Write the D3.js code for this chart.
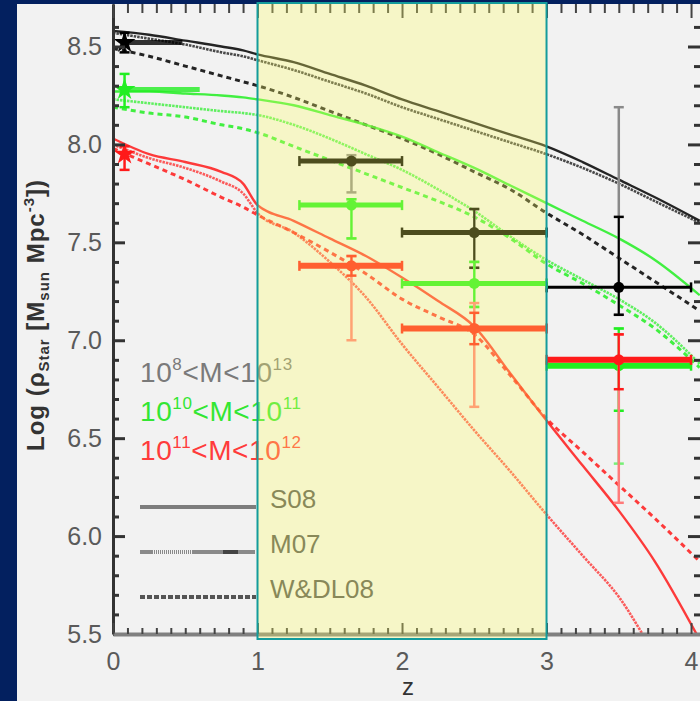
<!DOCTYPE html>
<html><head><meta charset="utf-8">
<script src="https://cdn.jsdelivr.net/npm/d3@7"></script>
<style>html,body{margin:0;padding:0;background:#f2f2f2;overflow:hidden}text{font-family:"Liberation Sans",Arial,sans-serif}</style>
</head><body>
<svg id="c" width="700" height="701"></svg>
<script>
// Redshift grid shared by all model curves
const zGrid = [0, 0.25, 0.5, 0.75, 0.9, 1, 1.25, 1.5, 1.75, 2, 2.25, 2.5, 2.75, 3, 3.25, 3.5, 3.75, 4.06];

// Model stellar mass densities, log rho_star, per mass bin and model
const blackS08 = [8.58, 8.56, 8.53, 8.50, 8.48, 8.46, 8.42, 8.36, 8.30, 8.23, 8.17, 8.11, 8.05, 7.99, 7.91, 7.82, 7.73, 7.61];
const blackM07 = [8.57, 8.54, 8.51, 8.47, 8.45, 8.43, 8.38, 8.32, 8.26, 8.19, 8.13, 8.07, 8.01, 7.95, 7.88, 7.80, 7.71, 7.60];
const blackWDL = [8.49, 8.45, 8.40, 8.35, 8.32, 8.30, 8.24, 8.17, 8.10, 8.03, 7.95, 7.86, 7.77, 7.65, 7.54, 7.42, 7.30, 7.15];
const greenS08 = [8.27, 8.27, 8.26, 8.25, 8.24, 8.23, 8.20, 8.15, 8.10, 8.04, 7.96, 7.88, 7.79, 7.70, 7.61, 7.52, 7.41, 7.23];
const greenM07 = [8.23, 8.21, 8.19, 8.17, 8.16, 8.15, 8.10, 8.03, 7.95, 7.87, 7.77, 7.66, 7.53, 7.41, 7.31, 7.21, 7.09, 6.88];
const greenWDL = [8.19, 8.16, 8.14, 8.10, 8.08, 8.06, 7.99, 7.92, 7.85, 7.78, 7.71, 7.63, 7.52, 7.39, 7.29, 7.18, 7.06, 6.86];
const redS08   = [8.03, 7.95, 7.91, 7.86, 7.80, 7.69, 7.61, 7.52, 7.43, 7.32, 7.20, 7.07, 6.83, 6.59, 6.36, 6.13, 5.87, 5.47];
const redM07   = [8.00, 7.93, 7.88, 7.81, 7.75, 7.65, 7.55, 7.40, 7.22, 6.98, 6.76, 6.54, 6.33, 6.11, 5.90, 5.69, 5.40, 5.10];
const redWDL   = [7.98, 7.90, 7.82, 7.73, 7.68, 7.64, 7.55, 7.45, 7.34, 7.21, 7.12, 7.03, 6.82, 6.60, 6.43, 6.26, 6.09, 5.87];

// Local (z ~ 0.1) estimates shown as stars
const starZ = 0.08;
const starVals = [8.52, 8.28, 7.95];
const starErrUp = [0.05, 0.08, 0.04];
const starErrDn = [0.05, 0.09, 0.08];
const starBarEnd = [0.48, 0.6, null];

// Observed redshift bins
const binZ  = [1.65, 2.5, 3.5];
const binLo = [1.29, 2.0, 3.0];
const binHi = [2.0, 3.0, 4.0];
const blackObs = [7.915, 7.55, 7.27];
const greenObs = [7.69, 7.29, 6.87];
const redObs   = [7.38, 7.06, 6.90];
// [up, down] errors: inner (dark) and outer (light)
const blackErrIn  = [[0, 0], [0.12, 0.18], [0.36, 0.14]];
const blackErrOut = [[0.03, 0.16], [0.12, 0.18], [0.92, 0.14]];
const greenErrIn  = [[0.03, 0.17], [0.11, 0.12], [0.19, 0.23]];
const greenErrOut = [[0.03, 0.17], [0.11, 0.12], [0.19, 0.50]];
const redErrIn    = [[0.05, 0.05], [0.08, 0.08], [0.13, 0.15]];
const redErrOut   = [[0.05, 0.38], [0.13, 0.40], [0.13, 0.73]];

// Axis ticks
const yMajor = [5.5, 6.0, 6.5, 7.0, 7.5, 8.0, 8.5];
const xMajor = [0, 1, 2, 3, 4];
const highlightZ = [1, 3];

const svg = d3.select('#c');
const x = d3.scaleLinear().domain([0, 4.062]).range([113, 700]);
const y = d3.scaleLinear().domain([5.5, 8.717]).range([634, 4]);

const NAVY = '#03205f', BLACK = '#000', GREEN = '#22ee22', RED = '#ff1a1a';

svg.append('rect').attr('width', 700).attr('height', 701).attr('fill', '#f2f2f2');
svg.append('rect').attr('x', 0).attr('y', 0).attr('width', 700).attr('height', 4).attr('fill', NAVY);

svg.append('defs').append('clipPath').attr('id', 'plot')
  .append('rect').attr('x', 113).attr('y', 4).attr('width', 587).attr('height', 630);

// Model curves
const line = d3.line().x((d, i) => x(zGrid[i])).y(d => y(d)).curve(d3.curveMonotoneX);
const styles = {
  S08: {w: 2.4, dash: null, op: 0.85},
  M07: {w: 2.6, dash: '2.5,1', op: 0.7},
  WDL: {w: 3, dash: '5,4', op: 0.85}
};
const models = [
  [blackS08, BLACK, 'S08'], [blackM07, BLACK, 'M07'], [blackWDL, BLACK, 'WDL'],
  [greenS08, GREEN, 'S08'], [greenM07, GREEN, 'M07'], [greenWDL, GREEN, 'WDL'],
  [redS08, RED, 'S08'], [redM07, RED, 'M07'], [redWDL, RED, 'WDL']
];
const gl = svg.append('g').attr('clip-path', 'url(#plot)');
models.forEach(([v, c, s]) => {
  const st = styles[s];
  gl.append('path').attr('d', line(v)).attr('fill', 'none').attr('stroke', c)
    .attr('stroke-width', st.w).attr('stroke-opacity', st.op)
    .attr('stroke-dasharray', st.dash);
});

// Observations with error bars
const groups = [
  {vals: blackObs, inn: blackErrIn, out: blackErrOut, c: '#000', light: '#8a8a8a', hw: [5, 5, 3]},
  {vals: greenObs, inn: greenErrIn, out: greenErrOut, c: '#22ee22', light: '#77f077', hw: [5, 5, 6]},
  {vals: redObs,   inn: redErrIn,   out: redErrOut,   c: '#ff1a1a', light: '#ff7a7a', hw: [6, 6, 6]}
];
const go = svg.append('g').attr('clip-path', 'url(#plot)');
function vbar(g, xc, y0, y1, col, w) {
  g.append('line').attr('x1', xc).attr('x2', xc).attr('y1', y0).attr('y2', y1)
    .attr('stroke', col).attr('stroke-width', w);
  [y0, y1].forEach(yy => g.append('line').attr('x1', xc - 5).attr('x2', xc + 5)
    .attr('y1', yy).attr('y2', yy).attr('stroke', col).attr('stroke-width', 2.5));
}
groups.forEach(gr => {
  gr.vals.forEach((v, i) => {
    const xc = x(binZ[i]), yc = y(v);
    vbar(go, xc, y(v + gr.out[i][0]), y(v - gr.out[i][1]), gr.light, 2.5);
    if (gr.inn[i][0] + gr.inn[i][1] > 0)
      vbar(go, xc, y(v + gr.inn[i][0]), y(v - gr.inn[i][1]), gr.c, 2);
    go.append('line').attr('x1', x(binLo[i])).attr('x2', x(binHi[i])).attr('y1', yc).attr('y2', yc)
      .attr('stroke', gr.c).attr('stroke-width', gr.hw[i]);
    [binLo[i], binHi[i]].forEach(zz => go.append('line').attr('x1', x(zz)).attr('x2', x(zz))
      .attr('y1', yc - 5).attr('y2', yc + 5).attr('stroke', gr.c).attr('stroke-width', 2.5));
    go.append('circle').attr('cx', xc).attr('cy', yc).attr('r', 5.5).attr('fill', gr.c);
  });
});

// Local stars
const starCols = [BLACK, GREEN, RED];
starVals.forEach((v, i) => {
  const c = starCols[i];
  if (starBarEnd[i] !== null)
    go.append('line').attr('x1', x(starZ)).attr('x2', x(starBarEnd[i])).attr('y1', y(v)).attr('y2', y(v))
      .attr('stroke', c).attr('stroke-width', 5).attr('stroke-opacity', 0.8);
  vbar(go, x(starZ), y(v + starErrUp[i]), y(v - starErrDn[i]), c, 2.5);
  go.append('path').attr('d', d3.symbol(d3.symbolStar, 150)())
    .attr('transform', `translate(${x(starZ)},${y(v)})`).attr('fill', c);
});

// Legend: mass bins
const legendRows = [
  {lo: '8', hi: '13', c: '#7a7a7a', yb: 382},
  {lo: '10', hi: '11', c: '#33e633', yb: 421},
  {lo: '11', hi: '12', c: '#ff3b3b', yb: 460}
];
legendRows.forEach(r => {
  const t = svg.append('text').attr('x', 140).attr('y', r.yb).attr('fill', r.c)
    .attr('font-size', 28).attr('letter-spacing', 0.6);
  t.append('tspan').text('10');
  t.append('tspan').attr('font-size', 17).attr('dy', -12).text(r.lo);
  t.append('tspan').attr('dy', 12).text('<M<10');
  t.append('tspan').attr('font-size', 17).attr('dy', -12).text(r.hi);
});

// Legend: model line styles
const legendModels = [
  {label: 'S08', yl: 507, s: 'S08'},
  {label: 'M07', yl: 552, s: 'M07'},
  {label: 'W&DL08', yl: 597, s: 'WDL'}
];
const m07Pattern = [13, 1].concat(d3.range(19).flatMap(() => [1, 1])).concat([63]).join(',');
legendModels.forEach(m => {
  const ln = svg.append('line').attr('x1', 140).attr('x2', 256).attr('y1', m.yl).attr('y2', m.yl)
    .attr('stroke-width', 4);
  if (m.s === 'S08') ln.attr('stroke', '#7d7d7d');
  if (m.s === 'M07') {
    ln.attr('stroke', '#8a8a8a').attr('stroke-dasharray', m07Pattern);
    svg.append('line').attr('x1', 223).attr('x2', 238).attr('y1', m.yl).attr('y2', m.yl)
      .attr('stroke', '#444').attr('stroke-width', 4);
  }
  if (m.s === 'WDL') ln.attr('stroke', '#555').attr('stroke-dasharray', '5,2');
  svg.append('text').attr('x', 270).attr('y', m.yl + 1).attr('fill', '#555')
    .attr('font-size', 26).text(m.label);
});

// Axes
function style(g, col, w) {
  g.selectAll('.tick line').attr('stroke', col).attr('stroke-width', w);
  g.selectAll('text').attr('font-size', 25).attr('fill', '#5a5a5a')
    .attr('font-family', '"Liberation Sans",Arial,sans-serif');
}
const yMinor = d3.range(55, 87).map(d => d / 10).filter(d => !yMajor.includes(d));
const xMinor = d3.range(1, 41).map(d => d / 10).filter(d => !xMajor.includes(d));

const gL = svg.append('g').attr('transform', 'translate(113,0)');
gL.call(d3.axisLeft(y).tickValues(yMajor).tickFormat(d3.format('.1f')).tickSize(-12).tickSizeOuter(0).tickPadding(11));
gL.select('.domain').attr('stroke', '#333').attr('stroke-width', 3);
style(gL, '#333', 3);
const gLm = svg.append('g').attr('transform', 'translate(113,0)');
gLm.call(d3.axisLeft(y).tickValues(yMinor).tickFormat('').tickSize(-6).tickSizeOuter(0));
gLm.select('.domain').remove();
style(gLm, '#333', 3);

const gR = svg.append('g').attr('transform', 'translate(700,0)');
gR.call(d3.axisRight(y).tickValues(yMajor).tickFormat('').tickSize(-12).tickSizeOuter(0));
gR.select('.domain').remove();
style(gR, '#333', 3);
const gRm = svg.append('g').attr('transform', 'translate(700,0)');
gRm.call(d3.axisRight(y).tickValues(yMinor).tickFormat('').tickSize(-6).tickSizeOuter(0));
gRm.select('.domain').remove();
style(gRm, '#333', 3);

const gB = svg.append('g').attr('transform', 'translate(0,634)');
gB.call(d3.axisBottom(x).tickValues(xMajor).tickFormat(d3.format('d')).tickSize(-11).tickSizeOuter(0).tickPadding(18));
gB.select('.domain').attr('stroke', '#808080').attr('stroke-width', 4);
style(gB, '#444', 2);
const gBm = svg.append('g').attr('transform', 'translate(0,634)');
gBm.call(d3.axisBottom(x).tickValues(xMinor).tickFormat('').tickSize(-6).tickSizeOuter(0));
gBm.select('.domain').remove();
style(gBm, '#444', 2);

const gT = svg.append('g').attr('transform', 'translate(0,4)');
gT.call(d3.axisTop(x).tickValues(xMajor).tickFormat('').tickSize(-14).tickSizeOuter(0));
gT.select('.domain').remove();
style(gT, '#444', 2);
const gTm = svg.append('g').attr('transform', 'translate(0,4)');
gTm.call(d3.axisTop(x).tickValues(xMinor).tickFormat('').tickSize(-9).tickSizeOuter(0));
gTm.select('.domain').remove();
style(gTm, '#444', 2);

// Axis titles
svg.append('text').attr('x', 408).attr('y', 695).attr('text-anchor', 'middle')
  .attr('font-size', 24).attr('fill', '#333').text('z');
const yt = svg.append('text').attr('transform', 'translate(44,315) rotate(-90)')
  .attr('text-anchor', 'middle').attr('font-size', 24).attr('font-weight', 'bold')
  .attr('fill', '#333').attr('letter-spacing', 1);
yt.append('tspan').text('Log (\u03C1');
yt.append('tspan').attr('font-size', 15).attr('dy', 5).text('Star');
yt.append('tspan').attr('dy', -5).text(' [M');
yt.append('tspan').attr('font-size', 15).attr('dy', 5).text('sun');
yt.append('tspan').attr('dy', -5).text(' Mpc');
yt.append('tspan').attr('font-size', 15).attr('dy', -10).text('-3');
yt.append('tspan').attr('dy', 10).text('])');

// Left frame band
svg.append('rect').attr('x', 0).attr('y', 0).attr('width', 17).attr('height', 701).attr('fill', NAVY);

// Highlighted redshift interval
svg.append('rect').attr('x', x(highlightZ[0])).attr('y', 3)
  .attr('width', x(highlightZ[1]) - x(highlightZ[0])).attr('height', 636)
  .attr('fill', 'rgb(255,255,100)').attr('fill-opacity', 0.3)
  .attr('stroke', '#149c9c').attr('stroke-width', 2);
</script></body></html>
